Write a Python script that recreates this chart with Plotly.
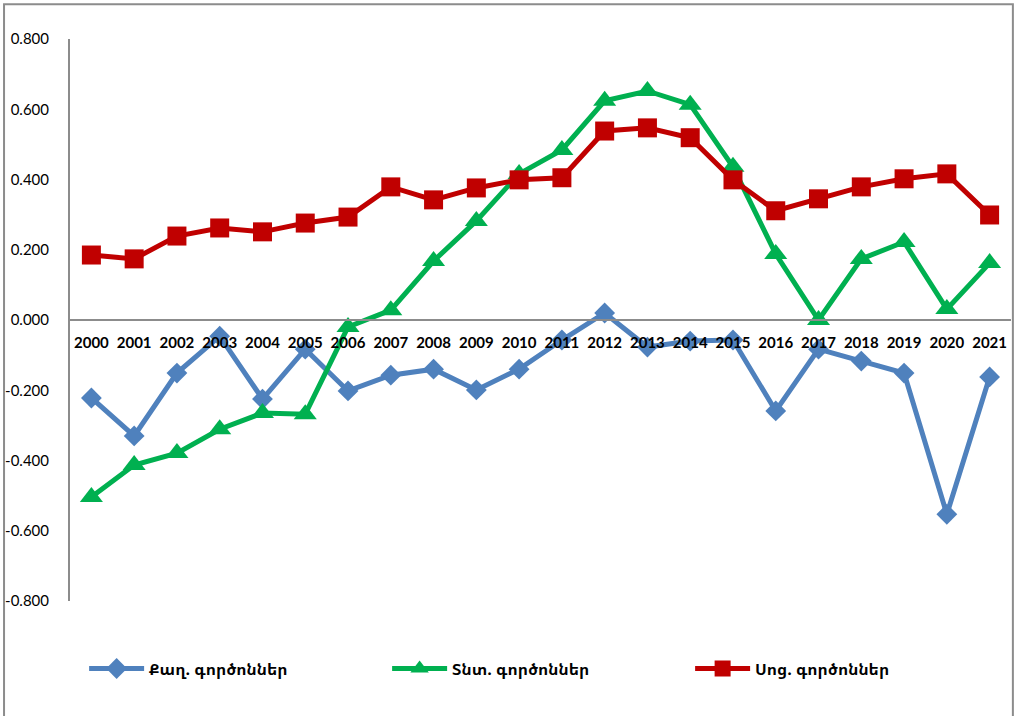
import plotly.graph_objects as go

# Years on the category axis
years = [str(y) for y in range(2000, 2022)]

# Series values
political = [-0.222, -0.330, -0.151, -0.046, -0.225, -0.083, -0.202, -0.157, -0.140, -0.199, -0.140,
             -0.057, 0.020, -0.077, -0.060, -0.057, -0.259, -0.083, -0.117, -0.151, -0.553, -0.162]
economic = [-0.504, -0.413, -0.379, -0.311, -0.265, -0.268, -0.020, 0.028, 0.168, 0.282, 0.416,
            0.484, 0.624, 0.652, 0.613, 0.436, 0.188, 0.000, 0.174, 0.222, 0.031, 0.162]
social = [0.185, 0.174, 0.239, 0.262, 0.251, 0.276, 0.293, 0.379, 0.342, 0.376, 0.399,
          0.405, 0.538, 0.547, 0.519, 0.399, 0.311, 0.345, 0.379, 0.402, 0.416, 0.299]

names = ["Քաղ. գործոններ", "Տնտ. գործոններ", "Սոց. գործոններ"]

# Y tick labels (plain hyphen minus, three decimals)
y_ticks = [-0.8, -0.6, -0.4, -0.2, 0.0, 0.2, 0.4, 0.6, 0.8]
y_labels = ["-0.800", "-0.600", "-0.400", "-0.200", "0.000", "0.200", "0.400", "0.600", "0.800"]

fig = go.Figure()
fig.add_trace(go.Scatter(x=years, y=political, name=names[0], mode="lines+markers",
                         line=dict(color="#4F81BD", width=5),
                         marker=dict(symbol="diamond", size=16, color="#4F81BD")))
fig.add_trace(go.Scatter(x=years, y=economic, name=names[1], mode="lines+markers",
                         line=dict(color="#00B050", width=5),
                         marker=dict(symbol="triangle-up", size=20, color="#00B050")))
fig.add_trace(go.Scatter(x=years, y=social, name=names[2], mode="lines+markers",
                         line=dict(color="#C00000", width=5),
                         marker=dict(symbol="square", size=19, color="#C00000")))

fig.update_layout(
    width=1019, height=716,
    margin=dict(l=70, r=8, t=39, b=115),
    plot_bgcolor="white", paper_bgcolor="white",
    font=dict(family="DejaVu Sans", color="black"),
    showlegend=True,
    legend=dict(orientation="h", x=0.015, y=-0.09, xanchor="left", yanchor="top",
                entrywidth=233, entrywidthmode="pixels", itemwidth=55,
                font=dict(family="Noto Sans Armenian, DejaVu Sans Condensed, DejaVu Sans",
                          size=16, weight="bold")),
    xaxis=dict(type="category", anchor="free", position=0.5, range=[-0.5, 21.5],
               automargin=False, ticklabelstandoff=9,
               showline=True, linecolor="#8C8C8C", linewidth=2,
               showgrid=False, zeroline=False, ticks="",
               tickfont=dict(family="Lato", size=15, weight="bold", color="black")),
    yaxis=dict(range=[-0.8, 0.8], tickvals=y_ticks, ticktext=y_labels, automargin=False,
               showline=True, linecolor="#8C8C8C", linewidth=2,
               showgrid=False, zeroline=False, ticks="outside", ticklen=16,
               tickcolor="rgba(0,0,0,0)",
               tickfont=dict(family="Lato", size=15, color="black")),
    shapes=[dict(type="rect", xref="paper", yref="paper",
                 x0=-0.0701, x1=1.002, y0=-0.22, y1=1.062,
                 line=dict(color="#8C8C8C", width=2))],
)

# Drop the default page margin so the figure sits at the window's corner
fig.write_html("out.html", config={"displayModeBar": False},
               post_script="document.body.style.margin='0';")
